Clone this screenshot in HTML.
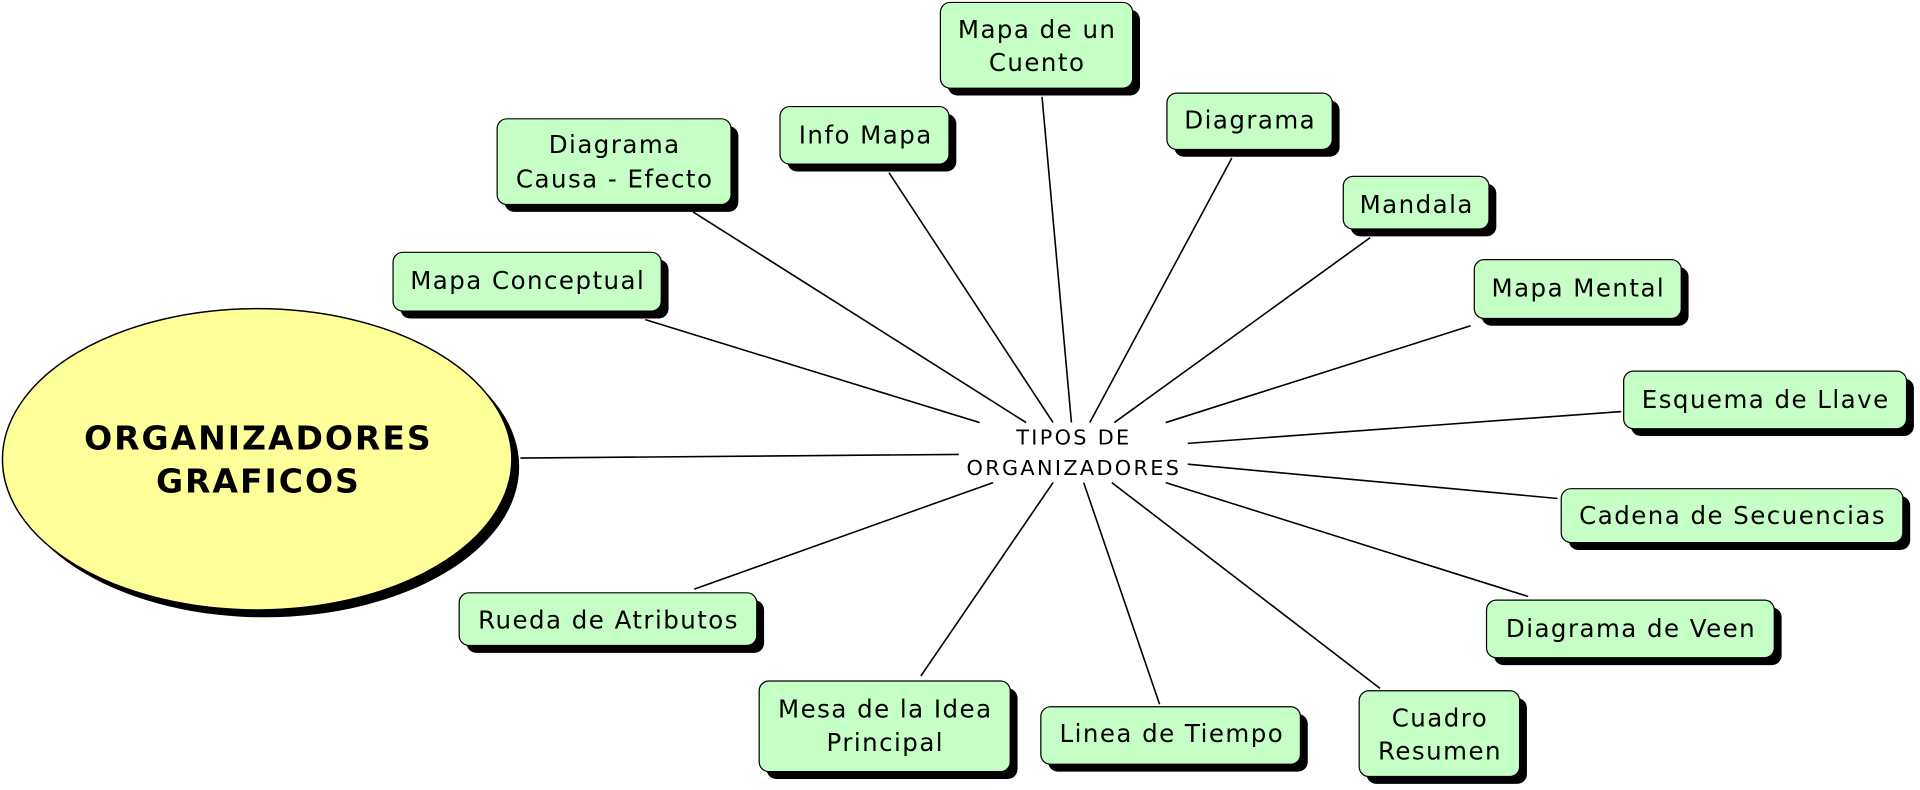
<!DOCTYPE html>
<html><head><meta charset="utf-8"><style>
html,body{margin:0;padding:0;background:#fff;width:1920px;height:790px;overflow:hidden}
svg{display:block}
text{font-family:"DejaVu Sans","Liberation Sans",sans-serif;fill:#000}
</style></head><body>
<svg width="1920" height="790" viewBox="0 0 1568 645" preserveAspectRatio="none">
<g stroke="#000" stroke-width="1.3">
<line x1="425" y1="374" x2="783" y2="371"/>
<line x1="527" y1="261" x2="800" y2="345"/>
<line x1="566" y1="173" x2="838" y2="345"/>
<line x1="726" y1="141" x2="860" y2="345"/>
<line x1="851" y1="79" x2="875" y2="345"/>
<line x1="1006" y1="129" x2="890" y2="345"/>
<line x1="1119" y1="194" x2="910" y2="345"/>
<line x1="1201" y1="266" x2="952" y2="345"/>
<line x1="1324" y1="336" x2="970" y2="362"/>
<line x1="1272" y1="407" x2="970" y2="379"/>
<line x1="1248" y1="487" x2="952" y2="394"/>
<line x1="1127" y1="562" x2="908" y2="394"/>
<line x1="947" y1="575" x2="885" y2="394"/>
<line x1="752" y1="552" x2="860" y2="394"/>
<line x1="567" y1="481" x2="811" y2="394"/>
</g>
<ellipse cx="216" cy="381" rx="208" ry="123" fill="#000"/>
<ellipse cx="210" cy="375" rx="208" ry="123" fill="#ffff99" stroke="#000" stroke-width="1.2"/>
<text x="211" y="367" font-size="27" font-weight="bold" text-anchor="middle" letter-spacing="1.6">ORGANIZADORES</text>
<text x="211" y="402" font-size="27" font-weight="bold" text-anchor="middle" letter-spacing="1.6">GRAFICOS</text>
<text x="877" y="363" font-size="17" text-anchor="middle" letter-spacing="1.9">TIPOS DE</text>
<text x="877" y="388" font-size="17" text-anchor="middle" letter-spacing="1.9">ORGANIZADORES</text>
<g font-size="20" text-anchor="middle" letter-spacing="1.2">
<rect x="774" y="8" width="157" height="70" rx="8" fill="#000"/><rect x="768" y="2" width="157" height="70" rx="8" fill="#c6ffc6" stroke="#000"/>
<text x="847" y="31">Mapa de un</text><text x="847" y="58">Cuento</text>
<rect x="643" y="93" width="138" height="47" rx="8" fill="#000"/><rect x="637" y="87" width="138" height="47" rx="8" fill="#c6ffc6" stroke="#000"/>
<text x="707" y="117">Info Mapa</text>
<rect x="959" y="82" width="135" height="46" rx="8" fill="#000"/><rect x="953" y="76" width="135" height="46" rx="8" fill="#c6ffc6" stroke="#000"/>
<text x="1021" y="105">Diagrama</text>
<rect x="412" y="103" width="191" height="70" rx="8" fill="#000"/><rect x="406" y="97" width="191" height="70" rx="8" fill="#c6ffc6" stroke="#000"/>
<text x="502" y="125">Diagrama</text><text x="502" y="153">Causa - Efecto</text>
<rect x="1103" y="150" width="119" height="43" rx="8" fill="#000"/><rect x="1097" y="144" width="119" height="43" rx="8" fill="#c6ffc6" stroke="#000"/>
<text x="1157" y="174">Mandala</text>
<rect x="327" y="212" width="219" height="48" rx="8" fill="#000"/><rect x="321" y="206" width="219" height="48" rx="8" fill="#c6ffc6" stroke="#000"/>
<text x="431" y="236">Mapa Conceptual</text>
<rect x="1210" y="218" width="169" height="48" rx="8" fill="#000"/><rect x="1204" y="212" width="169" height="48" rx="8" fill="#c6ffc6" stroke="#000"/>
<text x="1289" y="242">Mapa Mental</text>
<rect x="1332" y="309" width="231" height="47" rx="8" fill="#000"/><rect x="1326" y="303" width="231" height="47" rx="8" fill="#c6ffc6" stroke="#000"/>
<text x="1442" y="333">Esquema de Llave</text>
<rect x="1281" y="405" width="279" height="44" rx="8" fill="#000"/><rect x="1275" y="399" width="279" height="44" rx="8" fill="#c6ffc6" stroke="#000"/>
<text x="1415" y="428">Cadena de Secuencias</text>
<rect x="1220" y="496" width="235" height="47" rx="8" fill="#000"/><rect x="1214" y="490" width="235" height="47" rx="8" fill="#c6ffc6" stroke="#000"/>
<text x="1332" y="520">Diagrama de Veen</text>
<rect x="381" y="490" width="243" height="43" rx="8" fill="#000"/><rect x="375" y="484" width="243" height="43" rx="8" fill="#c6ffc6" stroke="#000"/>
<text x="497" y="513">Rueda de Atributos</text>
<rect x="626" y="562" width="205" height="74" rx="8" fill="#000"/><rect x="620" y="556" width="205" height="74" rx="8" fill="#c6ffc6" stroke="#000"/>
<text x="723" y="586">Mesa de la Idea</text><text x="723" y="613">Principal</text>
<rect x="856" y="583" width="212" height="47" rx="8" fill="#000"/><rect x="850" y="577" width="212" height="47" rx="8" fill="#c6ffc6" stroke="#000"/>
<text x="957" y="606">Linea de Tiempo</text>
<rect x="1116" y="570" width="131" height="70" rx="8" fill="#000"/><rect x="1110" y="564" width="131" height="70" rx="8" fill="#c6ffc6" stroke="#000"/>
<text x="1176" y="593">Cuadro</text><text x="1176" y="620">Resumen</text>
</g>
</svg>
</body></html>
